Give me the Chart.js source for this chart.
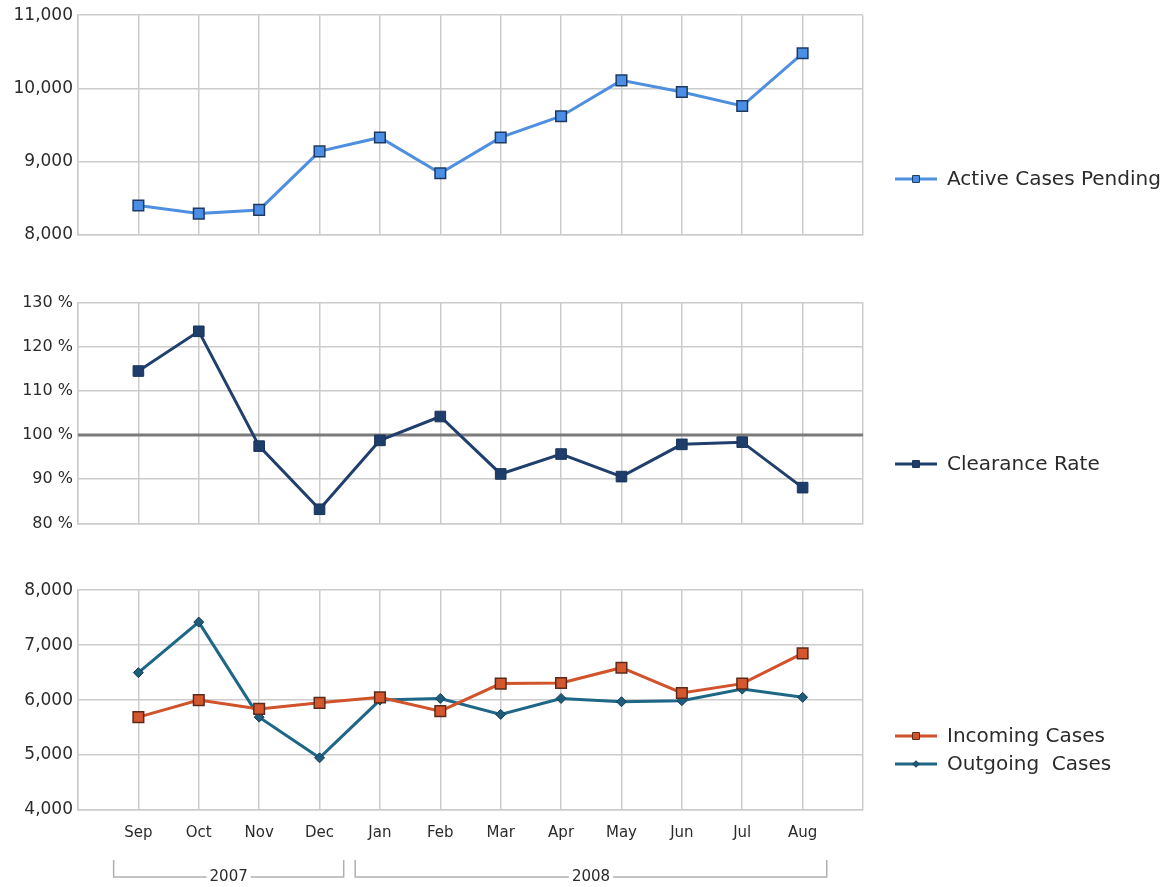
<!DOCTYPE html>
<html lang="en">
<head>
<meta charset="UTF-8" />
<title>Caseload Trends</title>
<style>
  html, body { margin: 0; padding: 0; background: #ffffff; }
  .panel { position: absolute; left: 0; width: 1173px; }
</style>
</head>
<body>
<div class="panel" style="top:0;height:250px"><canvas id="pendingChart" width="1173" height="250"></canvas></div>
<div class="panel" style="top:288px;height:250px"><canvas id="rateChart" width="1173" height="250"></canvas></div>
<div class="panel" style="top:575px;height:312px"><canvas id="flowChart" width="1173" height="312"></canvas></div>

<script src="https://cdn.jsdelivr.net/npm/chart.js"></script>
<script>
const months = ['Sep', 'Oct', 'Nov', 'Dec', 'Jan', 'Feb', 'Mar', 'Apr', 'May', 'Jun', 'Jul', 'Aug'];
const years = ['2007', '2008'];
const monthsPerYear = [4, 8];

const activePending = [8400, 8290, 8340, 9140, 9330, 8840, 9330, 9620, 10110, 9950, 9760, 10480];
const clearanceRate = [114.5, 123.5, 97.5, 83.2, 98.8, 104.2, 91.2, 95.7, 90.6, 97.9, 98.4, 88.1];
const incomingCases = [5690, 6000, 5840, 5950, 6050, 5800, 6300, 6310, 6590, 6130, 6300, 6850];
const outgoingCases = [6500, 7420, 5690, 4950, 6000, 6030, 5740, 6030, 5970, 5990, 6200, 6050];
const clearanceTarget = 100;

const FONT = 'DejaVu Sans';
const GRID = '#cccccc';
const TEXT = '#2b2b2b';

const points = arr => arr.map((v, i) => ({ x: i, y: v }));

// legend drawn to the right of the plot area
const sideLegend = {
  id: 'sideLegend',
  afterDraw(chart, args, opts) {
    const ctx = chart.ctx;
    ctx.save();
    chart.data.datasets.forEach((ds, i) => {
      const y = opts.y[i];
      ctx.strokeStyle = ds.borderColor;
      ctx.lineWidth = 3;
      ctx.beginPath();
      ctx.moveTo(895, y);
      ctx.lineTo(937, y);
      ctx.stroke();
      ctx.fillStyle = ds.pointBackgroundColor;
      ctx.strokeStyle = ds.pointBorderColor;
      ctx.lineWidth = 1;
      Chart.helpers.drawPoint(ctx, {
        pointStyle: ds.pointStyle,
        radius: ds.pointRadius * 0.65,
        borderWidth: 1
      }, 916, y);
      ctx.fillStyle = TEXT;
      ctx.font = '20px ' + FONT;
      ctx.textBaseline = 'middle';
      ctx.fillText(ds.label, 947, y + 1);
    });
    ctx.restore();
  }
};

// reference line for the 100 % clearance target
const targetLine = {
  id: 'targetLine',
  beforeDatasetsDraw(chart, args, opts) {
    if (opts.value == null) return;
    const { ctx, chartArea, scales } = chart;
    const y = scales.y.getPixelForValue(opts.value);
    ctx.save();
    ctx.strokeStyle = '#7a7a7a';
    ctx.lineWidth = 3;
    ctx.beginPath();
    ctx.moveTo(chartArea.left, y);
    ctx.lineTo(chartArea.right, y);
    ctx.stroke();
    ctx.restore();
  }
};

// year brackets under the month labels
const yearBrackets = {
  id: 'yearBrackets',
  afterDraw(chart, args, opts) {
    if (!opts.show) return;
    const { ctx, scales } = chart;
    const top = 285, bottom = 302;
    let start = 0;
    ctx.save();
    ctx.font = '15px ' + FONT;
    ctx.textAlign = 'center';
    ctx.textBaseline = 'middle';
    years.forEach((yr, i) => {
      const end = start + monthsPerYear[i] - 1;
      const x1 = scales.x.getPixelForValue(start - 0.41);
      const x2 = scales.x.getPixelForValue(end + 0.4);
      const mid = (x1 + x2) / 2;
      const half = ctx.measureText(yr).width / 2 + 3;
      ctx.strokeStyle = '#b0b0b0';
      ctx.lineWidth = 1.5;
      ctx.beginPath();
      ctx.moveTo(x1, top);
      ctx.lineTo(x1, bottom);
      ctx.lineTo(mid - half, bottom);
      ctx.moveTo(mid + half, bottom);
      ctx.lineTo(x2, bottom);
      ctx.lineTo(x2, top);
      ctx.stroke();
      ctx.fillStyle = TEXT;
      ctx.fillText(yr, mid, bottom);
      start = end + 1;
    });
    ctx.restore();
  }
};

function makeChart(id, datasets, cfg) {
  return new Chart(document.getElementById(id), {
    type: 'line',
    data: { datasets },
    options: {
      responsive: false,
      animation: false,
      layout: { padding: { top: cfg.padTop, right: 1173 - 863, left: 0, bottom: 0 } },
      plugins: {
        legend: { display: false },
        tooltip: { enabled: false },
        sideLegend: { y: cfg.legendY },
        targetLine: { value: cfg.target },
        yearBrackets: { show: !!cfg.showYears }
      },
      elements: { line: { tension: 0, borderWidth: 3 } },
      scales: {
        x: {
          type: 'linear',
          min: -1,
          max: 12,
          afterFit: s => { s.height = cfg.xHeight; },
          grid: { color: GRID, lineWidth: 1.5, drawTicks: false },
          border: { color: GRID, width: 1.5 },
          ticks: {
            display: !!cfg.showMonths,
            stepSize: 1,
            autoSkip: false,
            maxRotation: 0,
            padding: 14,
            color: TEXT,
            font: { family: FONT, size: 15 },
            callback: v => months[v] ?? ''
          }
        },
        y: {
          min: cfg.min,
          max: cfg.max,
          afterFit: s => { s.width = 78; },
          grid: { color: GRID, lineWidth: 1.5, drawTicks: false },
          border: { color: GRID, width: 1.5 },
          ticks: {
            stepSize: cfg.step,
            padding: 5,
            color: TEXT,
            font: { family: FONT, size: cfg.tickSize || 17 },
            callback: cfg.fmt
          }
        }
      }
    },
    plugins: [targetLine, sideLegend, yearBrackets]
  });
}

const thousands = v => v.toLocaleString('en-US');

makeChart('pendingChart', [{
  label: 'Active Cases Pending',
  data: points(activePending),
  borderColor: '#4f8fe0',
  pointStyle: 'rect',
  pointRadius: 7.5,
  pointBackgroundColor: '#4a8ee6',
  pointBorderColor: '#1e3a63',
  pointBorderWidth: 1.5
}], { padTop: 14, xHeight: 13, min: 8000, max: 11000, step: 1000, fmt: thousands, legendY: [179] });

makeChart('rateChart', [{
  label: 'Clearance Rate',
  data: points(clearanceRate),
  borderColor: '#213f6c',
  pointStyle: 'rect',
  pointRadius: 7.5,
  pointBackgroundColor: '#1f3d6b',
  pointBorderColor: '#1a3359',
  pointBorderWidth: 1
}], { padTop: 13, xHeight: 14, min: 80, max: 130, step: 10, fmt: v => v + ' %', tickSize: 16,
     legendY: [176], target: clearanceTarget });

makeChart('flowChart', [{
  label: 'Incoming Cases',
  data: points(incomingCases),
  borderColor: '#d0532b',
  pointStyle: 'rect',
  pointRadius: 7.5,
  pointBackgroundColor: '#d4572e',
  pointBorderColor: '#5b2a1c',
  pointBorderWidth: 1.5
}, {
  label: 'Outgoing  Cases',
  data: points(outgoingCases),
  borderColor: '#1f6787',
  pointStyle: 'rectRot',
  pointRadius: 5,
  pointBackgroundColor: '#1d5d7b',
  pointBorderColor: '#163e55',
  pointBorderWidth: 1
}], { padTop: 13, xHeight: 77, min: 4000, max: 8000, step: 1000, fmt: thousands,
     legendY: [161, 189], showMonths: true, showYears: true });
</script>
</body>
</html>
